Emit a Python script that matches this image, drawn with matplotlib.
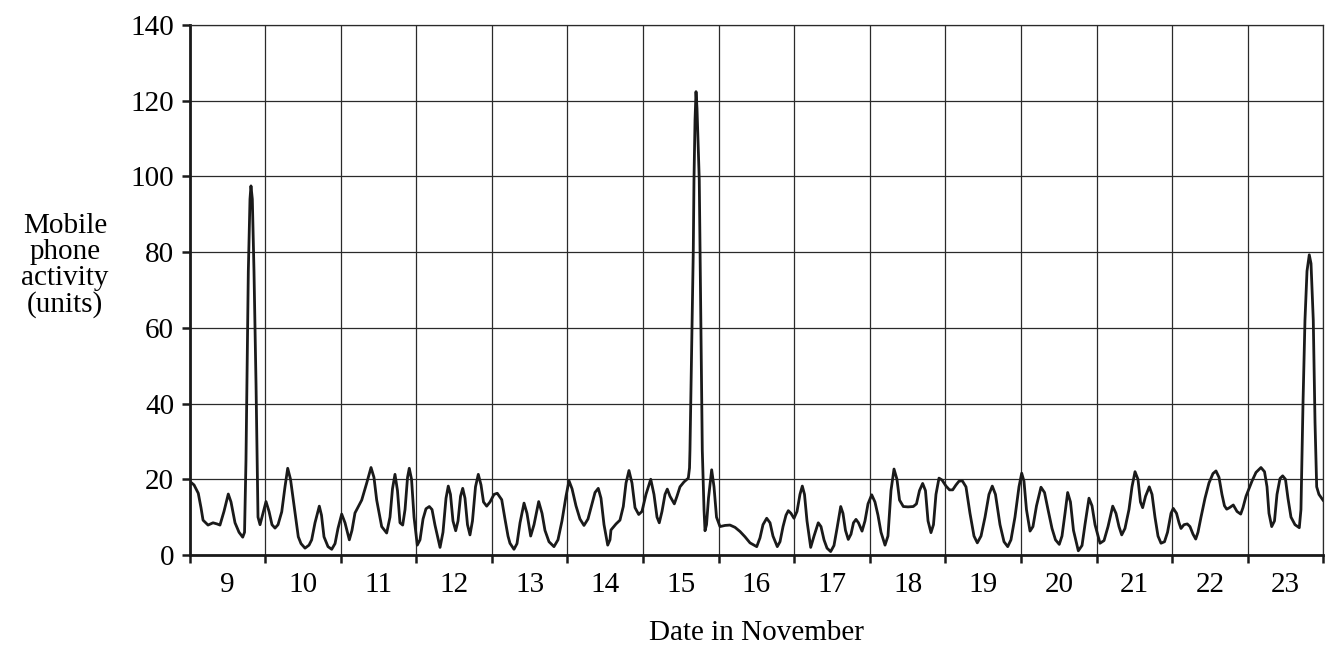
import matplotlib
matplotlib.use("Agg")
import matplotlib.pyplot as plt
from matplotlib.ticker import FixedLocator, NullFormatter, FixedFormatter

plt.rcParams['font.family'] = ['Liberation Serif', 'DejaVu Serif']

# time in days (Nov 9 00:00 = 9.0)
time_days = [
    9.000, 9.060, 9.116, 9.152, 9.179, 9.245, 9.311, 9.364, 9.403, 9.456,
    9.513, 9.549, 9.602, 9.655, 9.704, 9.728, 9.747, 9.778, 9.800, 9.813,
    9.831, 9.853, 9.880, 9.906, 9.933, 9.972, 10.012, 10.052, 10.091, 10.131,
    10.171, 10.220, 10.263, 10.299, 10.336, 10.373, 10.439, 10.475, 10.528, 10.581,
    10.616, 10.660, 10.717, 10.746, 10.779, 10.832, 10.881, 10.925, 10.964, 11.013,
    11.057, 11.114, 11.149, 11.189, 11.278, 11.344, 11.401, 11.440, 11.476, 11.542,
    11.608, 11.652, 11.685, 11.718, 11.751, 11.784, 11.820, 11.851, 11.884, 11.907,
    11.937, 11.970, 12.013, 12.049, 12.089, 12.128, 12.172, 12.208, 12.247, 12.314,
    12.353, 12.393, 12.423, 12.452, 12.485, 12.521, 12.552, 12.585, 12.614, 12.644,
    12.677, 12.710, 12.743, 12.783, 12.820, 12.856, 12.889, 12.931, 12.975, 13.028,
    13.071, 13.130, 13.173, 13.213, 13.239, 13.292, 13.332, 13.372, 13.425, 13.464,
    13.513, 13.557, 13.619, 13.663, 13.702, 13.755, 13.821, 13.874, 13.927, 13.980,
    14.020, 14.060, 14.112, 14.165, 14.218, 14.271, 14.324, 14.364, 14.407, 14.443,
    14.483, 14.532, 14.562, 14.575, 14.642, 14.694, 14.738, 14.774, 14.813, 14.853,
    14.893, 14.942, 14.985, 15.038, 15.101, 15.144, 15.184, 15.214, 15.250, 15.290,
    15.320, 15.356, 15.413, 15.448, 15.488, 15.541, 15.598, 15.614, 15.620, 15.647,
    15.664, 15.673, 15.687, 15.700, 15.713, 15.743, 15.753, 15.783, 15.806, 15.819,
    15.839, 15.865, 15.907, 15.938, 15.971, 16.017, 16.083, 16.149, 16.216, 16.282,
    16.348, 16.414, 16.503, 16.546, 16.586, 16.635, 16.679, 16.718, 16.775, 16.811,
    16.851, 16.890, 16.921, 16.956, 16.996, 17.036, 17.075, 17.106, 17.135, 17.168,
    17.217, 17.261, 17.317, 17.353, 17.393, 17.433, 17.481, 17.525, 17.565, 17.614,
    17.644, 17.677, 17.714, 17.750, 17.783, 17.816, 17.849, 17.896, 17.935, 17.975,
    18.024, 18.067, 18.107, 18.147, 18.200, 18.239, 18.279, 18.319, 18.358, 18.392,
    18.442, 18.504, 18.574, 18.616, 18.656, 18.698, 18.735, 18.769, 18.808, 18.841,
    18.874, 18.914, 18.954, 19.007, 19.053, 19.095, 19.139, 19.179, 19.222, 19.271,
    19.324, 19.377, 19.421, 19.470, 19.523, 19.575, 19.619, 19.661, 19.721, 19.774,
    19.823, 19.866, 19.919, 19.972, 20.008, 20.038, 20.071, 20.118, 20.157, 20.204,
    20.263, 20.310, 20.356, 20.409, 20.455, 20.505, 20.541, 20.581, 20.616, 20.653,
    20.693, 20.757, 20.806, 20.845, 20.898, 20.938, 20.978, 21.044, 21.097, 21.150,
    21.212, 21.255, 21.295, 21.331, 21.374, 21.427, 21.467, 21.507, 21.546, 21.579,
    21.608, 21.646, 21.696, 21.732, 21.771, 21.811, 21.851, 21.897, 21.937, 21.983,
    22.013, 22.056, 22.089, 22.115, 22.155, 22.198, 22.234, 22.274, 22.310, 22.340,
    22.380, 22.433, 22.485, 22.538, 22.578, 22.618, 22.657, 22.690, 22.720, 22.757,
    22.807, 22.856, 22.905, 22.935, 22.975, 23.015, 23.054, 23.107, 23.173, 23.220,
    23.253, 23.279, 23.315, 23.352, 23.385, 23.425, 23.460, 23.497, 23.530, 23.570,
    23.623, 23.680, 23.702, 23.729, 23.755, 23.782, 23.812, 23.835, 23.865, 23.888,
    23.910, 23.940, 24.000,
]

activity = [
    19.5, 18.5, 16.3, 12.5, 9.2, 7.9, 8.5, 8.2, 7.9, 11.5,
    16.1, 14.0, 8.5, 6.0, 4.7, 6.0, 25.0, 75.0, 94.0, 97.5,
    94.0, 75.0, 45.0, 10.0, 8.0, 11.0, 14.1, 11.5, 8.0, 7.1,
    8.0, 11.4, 18.0, 22.9, 20.0, 14.5, 4.8, 3.0, 1.8, 2.6,
    4.0, 8.5, 12.9, 10.5, 4.8, 2.2, 1.5, 3.0, 7.0, 10.8,
    8.5, 4.0, 6.5, 11.1, 14.5, 19.0, 23.1, 20.5, 14.5, 7.5,
    5.8, 10.0, 17.5, 21.3, 17.0, 8.5, 7.9, 12.0, 20.5, 22.9,
    20.0, 10.0, 2.6, 4.0, 9.5, 12.2, 12.8, 12.0, 7.9, 2.0,
    6.0, 15.0, 18.2, 16.0, 9.0, 6.4, 9.0, 15.5, 17.6, 15.0,
    8.0, 5.3, 9.0, 18.0, 21.3, 18.5, 14.0, 12.9, 14.0, 16.0,
    16.3, 14.6, 9.5, 5.0, 3.1, 1.5, 3.0, 8.5, 13.7, 11.0,
    5.0, 8.0, 14.1, 11.0, 6.5, 3.5, 2.2, 4.0, 9.0, 15.5,
    19.6, 17.5, 13.0, 9.5, 7.8, 9.5, 13.5, 16.5, 17.6, 15.0,
    8.0, 2.6, 4.0, 6.6, 8.2, 9.2, 12.8, 19.0, 22.3, 19.0,
    12.5, 10.7, 11.5, 16.0, 20.0, 16.0, 10.0, 8.5, 11.5, 16.0,
    17.4, 15.5, 13.5, 15.5, 18.0, 19.3, 20.3, 23.0, 27.7, 60.0,
    80.6, 99.0, 115.0, 122.4, 118.0, 99.0, 80.6, 27.7, 11.9, 6.4,
    8.0, 15.0, 22.5, 18.0, 10.0, 7.5, 7.8, 7.9, 7.3, 6.2,
    4.8, 3.2, 2.2, 4.5, 8.0, 9.7, 8.5, 5.0, 2.2, 3.5,
    7.5, 10.5, 11.7, 11.0, 9.7, 11.5, 16.0, 18.2, 16.0, 9.0,
    2.0, 5.0, 8.5, 7.5, 4.0, 1.8, 0.9, 2.5, 7.0, 12.8,
    11.0, 6.5, 4.1, 5.5, 8.5, 9.4, 8.5, 6.3, 9.0, 13.5,
    15.9, 14.0, 10.5, 6.0, 2.6, 5.0, 17.0, 22.7, 20.0, 14.5,
    12.8, 12.7, 12.8, 13.5, 17.0, 18.9, 17.0, 9.0, 5.9, 8.0,
    16.0, 20.3, 19.8, 18.2, 17.2, 17.2, 18.5, 19.5, 19.6, 18.0,
    11.0, 5.0, 3.2, 5.0, 10.0, 16.0, 18.2, 16.0, 8.0, 3.5,
    2.2, 4.0, 10.0, 18.0, 21.6, 19.5, 12.0, 6.3, 7.5, 13.0,
    17.9, 16.5, 12.0, 7.0, 4.0, 2.8, 5.0, 11.0, 16.5, 14.0,
    6.5, 1.1, 2.5, 8.0, 15.0, 13.0, 8.0, 3.1, 3.8, 7.5,
    12.9, 11.0, 7.5, 5.3, 7.0, 12.0, 18.0, 22.0, 20.0, 14.0,
    12.5, 15.5, 18.0, 16.0, 10.0, 5.0, 3.1, 3.5, 6.0, 11.0,
    12.3, 11.0, 8.5, 7.0, 8.0, 8.2, 7.5, 5.5, 4.2, 6.0,
    10.0, 15.0, 19.0, 21.5, 22.2, 20.5, 16.0, 13.0, 12.1, 12.5,
    13.2, 11.5, 10.8, 12.5, 15.5, 17.5, 19.5, 21.8, 23.1, 22.0,
    18.0, 11.0, 7.5, 9.0, 16.0, 20.2, 20.9, 20.0, 15.0, 10.0,
    8.0, 7.2, 12.0, 40.0, 62.0, 75.0, 79.3, 77.0, 62.0, 35.0,
    18.0, 16.0, 14.3,
]

day_labels = [str(d) for d in range(9, 24)]
y_ticks = [0, 20, 40, 60, 80, 100, 120, 140]

fig = plt.figure(figsize=(13.28, 6.5), dpi=100)
ax = fig.add_axes([0.1427, 0.1462, 0.8539, 0.8153])

ax.plot(time_days, activity, color='#1a1a1a', lw=2.0, solid_joinstyle='round',
        solid_capstyle='round', zorder=3)

ax.set_xlim(9, 24)
ax.set_ylim(0, 140)

ax.xaxis.set_major_locator(FixedLocator(list(range(9, 25))))
ax.xaxis.set_major_formatter(NullFormatter())
ax.xaxis.set_minor_locator(FixedLocator([d + 0.5 for d in range(9, 24)]))
ax.xaxis.set_minor_formatter(FixedFormatter(day_labels))
ax.set_yticks(y_ticks)
ax.set_yticklabels([str(v) for v in y_ticks])

ax.tick_params(axis='x', which='major', direction='out', length=6, width=1.8, color='#1a1a1a')
ax.tick_params(axis='x', which='minor', length=0, pad=12, labelsize=21)
ax.tick_params(axis='y', which='major', direction='out', length=6, width=1.8, color='#1a1a1a',
               pad=5, labelsize=21)

ax.grid(True, which='major', color='#2a2a2a', lw=0.9)
ax.set_axisbelow(True)

for side in ['left', 'bottom']:
    ax.spines[side].set_linewidth(2.0)
    ax.spines[side].set_color('#1a1a1a')
for side in ['top', 'right']:
    ax.spines[side].set_linewidth(0.9)
    ax.spines[side].set_color('#2a2a2a')

ax.set_xlabel('Date in November', fontsize=21, labelpad=16)
fig.text(0.049, 0.592, 'Mobile\nphone\nactivity\n(units)', ha='center', va='center',
         fontsize=21, linespacing=1.0, multialignment='center')

fig.savefig('out.png', dpi=100)
